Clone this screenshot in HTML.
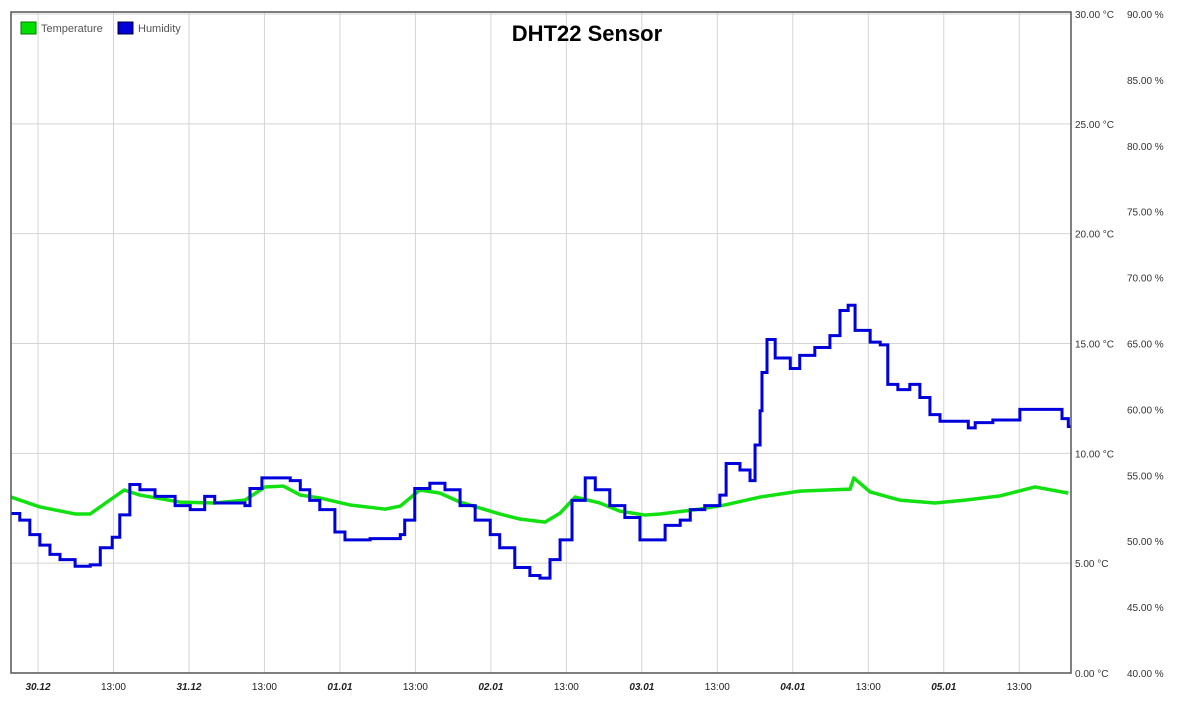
<!DOCTYPE html>
<html><head><meta charset="utf-8"><style>
body{margin:0;background:#fff;font-family:"Liberation Sans",sans-serif}
svg text{font-family:"Liberation Sans",sans-serif}
</style></head><body>
<svg id="c" width="1187" height="699" xmlns="http://www.w3.org/2000/svg">
<rect x="0" y="0" width="1187" height="699" fill="#fff"/>
<g id="grid"></g>
<g id="series"></g>
<rect x="11" y="12" width="1060" height="661" fill="none" stroke="#555" stroke-width="1.5"/>
<g id="axes"></g>
<text x="587" y="41" text-anchor="middle" font-size="22" font-weight="bold">DHT22 Sensor</text>
<g>
<rect x="21" y="22" width="15" height="12" fill="#00e000" stroke="#070"/>
<text x="41" y="32" font-size="11" fill="#555">Temperature</text>
<rect x="118" y="22" width="15" height="12" fill="#0000d8" stroke="#003"/>
<text x="138" y="32" font-size="11" fill="#555">Humidity</text>
</g>
</svg>
<script>
const tempHours=[-4.3,0.3,5.9,8.3,11.4,13.7,16.2,22.6,28.1,32.9,36.1,39.0,41.7,44.8,49.6,55.2,57.6,60.7,63.9,67.1,73.4,76.6,80.6,83.0,85.4,89.3,92.5,96.5,98.9,105.2,109.2,114.8,121.1,129.1,129.7,132.3,137.0,142.6,147.4,152.9,158.5,163.8];
const tempValues=[8.01,7.56,7.24,7.24,7.87,8.33,8.10,7.78,7.74,7.87,8.47,8.51,8.10,7.97,7.65,7.46,7.60,8.33,8.19,7.78,7.24,7.01,6.87,7.28,8.01,7.74,7.37,7.19,7.24,7.46,7.65,8.01,8.28,8.37,8.88,8.24,7.87,7.74,7.87,8.06,8.47,8.19];
const humHours=[-4.3,-2.9,-1.3,0.3,1.9,3.5,5.9,8.3,9.9,11.8,13.0,14.6,16.2,18.6,21.8,24.2,26.5,28.1,32.9,33.7,35.6,40.1,41.7,43.2,44.8,47.2,48.8,52.8,57.6,58.3,59.9,62.3,64.7,67.1,69.5,71.9,73.4,75.8,78.2,79.8,81.4,83.0,84.9,87.0,88.6,90.9,93.3,95.7,98.1,99.7,102.1,103.7,106.0,108.4,109.4,111.6,113.2,114.0,114.8,115.1,115.9,117.2,119.6,121.1,123.5,125.9,127.5,128.8,129.9,132.3,133.9,135.1,136.7,138.6,140.2,141.8,143.4,147.9,149.0,151.8,156.1,161.7,162.8,163.8];
const humValues=[52.1,51.6,50.5,49.7,49.0,48.6,48.1,48.2,49.5,50.3,52.0,54.3,53.9,53.4,52.7,52.4,53.4,52.9,52.7,54.0,54.8,54.6,53.9,53.1,52.4,50.7,50.1,50.2,50.5,51.6,54.0,54.4,53.9,52.7,51.6,50.5,49.5,48.0,47.4,47.2,48.6,50.1,53.1,54.8,53.9,52.7,51.8,50.1,50.1,51.2,51.6,52.4,52.7,53.5,55.9,55.4,54.6,57.3,59.9,62.8,65.3,63.9,63.1,64.1,64.7,65.6,67.5,67.9,66.0,65.1,64.9,61.9,61.5,61.9,60.9,59.6,59.1,58.6,59.0,59.2,60.0,60.0,59.3,58.7];
const tempTicks=[0,5,10,15,20,25,30];
const humTicks=[40,45,50,55,60,65,70,75,80,85,90];
const xTickLabels=["30.12","13:00","31.12","13:00","01.01","13:00","02.01","13:00","03.01","13:00","04.01","13:00","05.01","13:00"];
const NS="http://www.w3.org/2000/svg";
const X0=11,X1=1071,Y0=673,Y1=14;
const x=h=>38+h*6.29;
const yT=v=>Y0-(v-0)/30*(Y0-Y1);
const yH=v=>Y0-(v-40)/50*(Y0-Y1);
function mk(tag,attrs,parent){const e=document.createElementNS(NS,tag);for(const k in attrs)e.setAttribute(k,attrs[k]);parent.appendChild(e);return e;}
const grid=document.getElementById('grid'),axes=document.getElementById('axes'),ser=document.getElementById('series');
tempTicks.forEach(t=>{const y=yT(t);
 const l=mk('line',{x1:X0,x2:X1,y1:y,y2:y,stroke:'#d4d4d4','stroke-width':1},grid);
 
 
 const tx=mk('text',{x:1075,y:y+4,'font-size':10,fill:'#333'},axes);tx.textContent=t.toFixed(2)+' °C';
 
 
});
humTicks.forEach(t=>{const y=yH(t);
 const tx=mk('text',{x:1127,y:y+4,'font-size':10,fill:'#333'},axes);tx.textContent=t.toFixed(2)+' %';
 
 
});
xTickLabels.forEach((lab,i)=>{const xx=x(i*12);
 const l=mk('line',{x1:xx,x2:xx,y1:12,y2:Y0,stroke:'#d4d4d4','stroke-width':1},grid);
 
 
 const isDate=i%2===0;
 const tx=mk('text',{x:xx,y:690,'font-size':10,fill:'#222','text-anchor':'middle','font-weight':isDate?'bold':'normal','font-style':isDate?'italic':'normal'},axes);
 tx.textContent=lab;
 
 
});
function stepPath(hs,vs,yf){let d='';for(let i=0;i<hs.length;i++){const px=x(hs[i]),py=yf(vs[i]);if(i===0)d+='M'+px+' '+py;else d+='H'+px+'V'+py;}return d+'H'+X1;}
function linePath(hs,vs,yf){let d='';for(let i=0;i<hs.length;i++){d+=(i?'L':'M')+x(hs[i])+' '+yf(vs[i]);}return d;}
const tp=mk('path',{d:linePath(tempHours,tempValues,yT),fill:'none',stroke:'#11e011','stroke-width':3.5,'stroke-linejoin':'round'},ser);


const hp=mk('path',{d:stepPath(humHours,humValues,yH),fill:'none',stroke:'#0000dd','stroke-width':3,'stroke-linejoin':'miter'},ser);


</script>
</body></html>
